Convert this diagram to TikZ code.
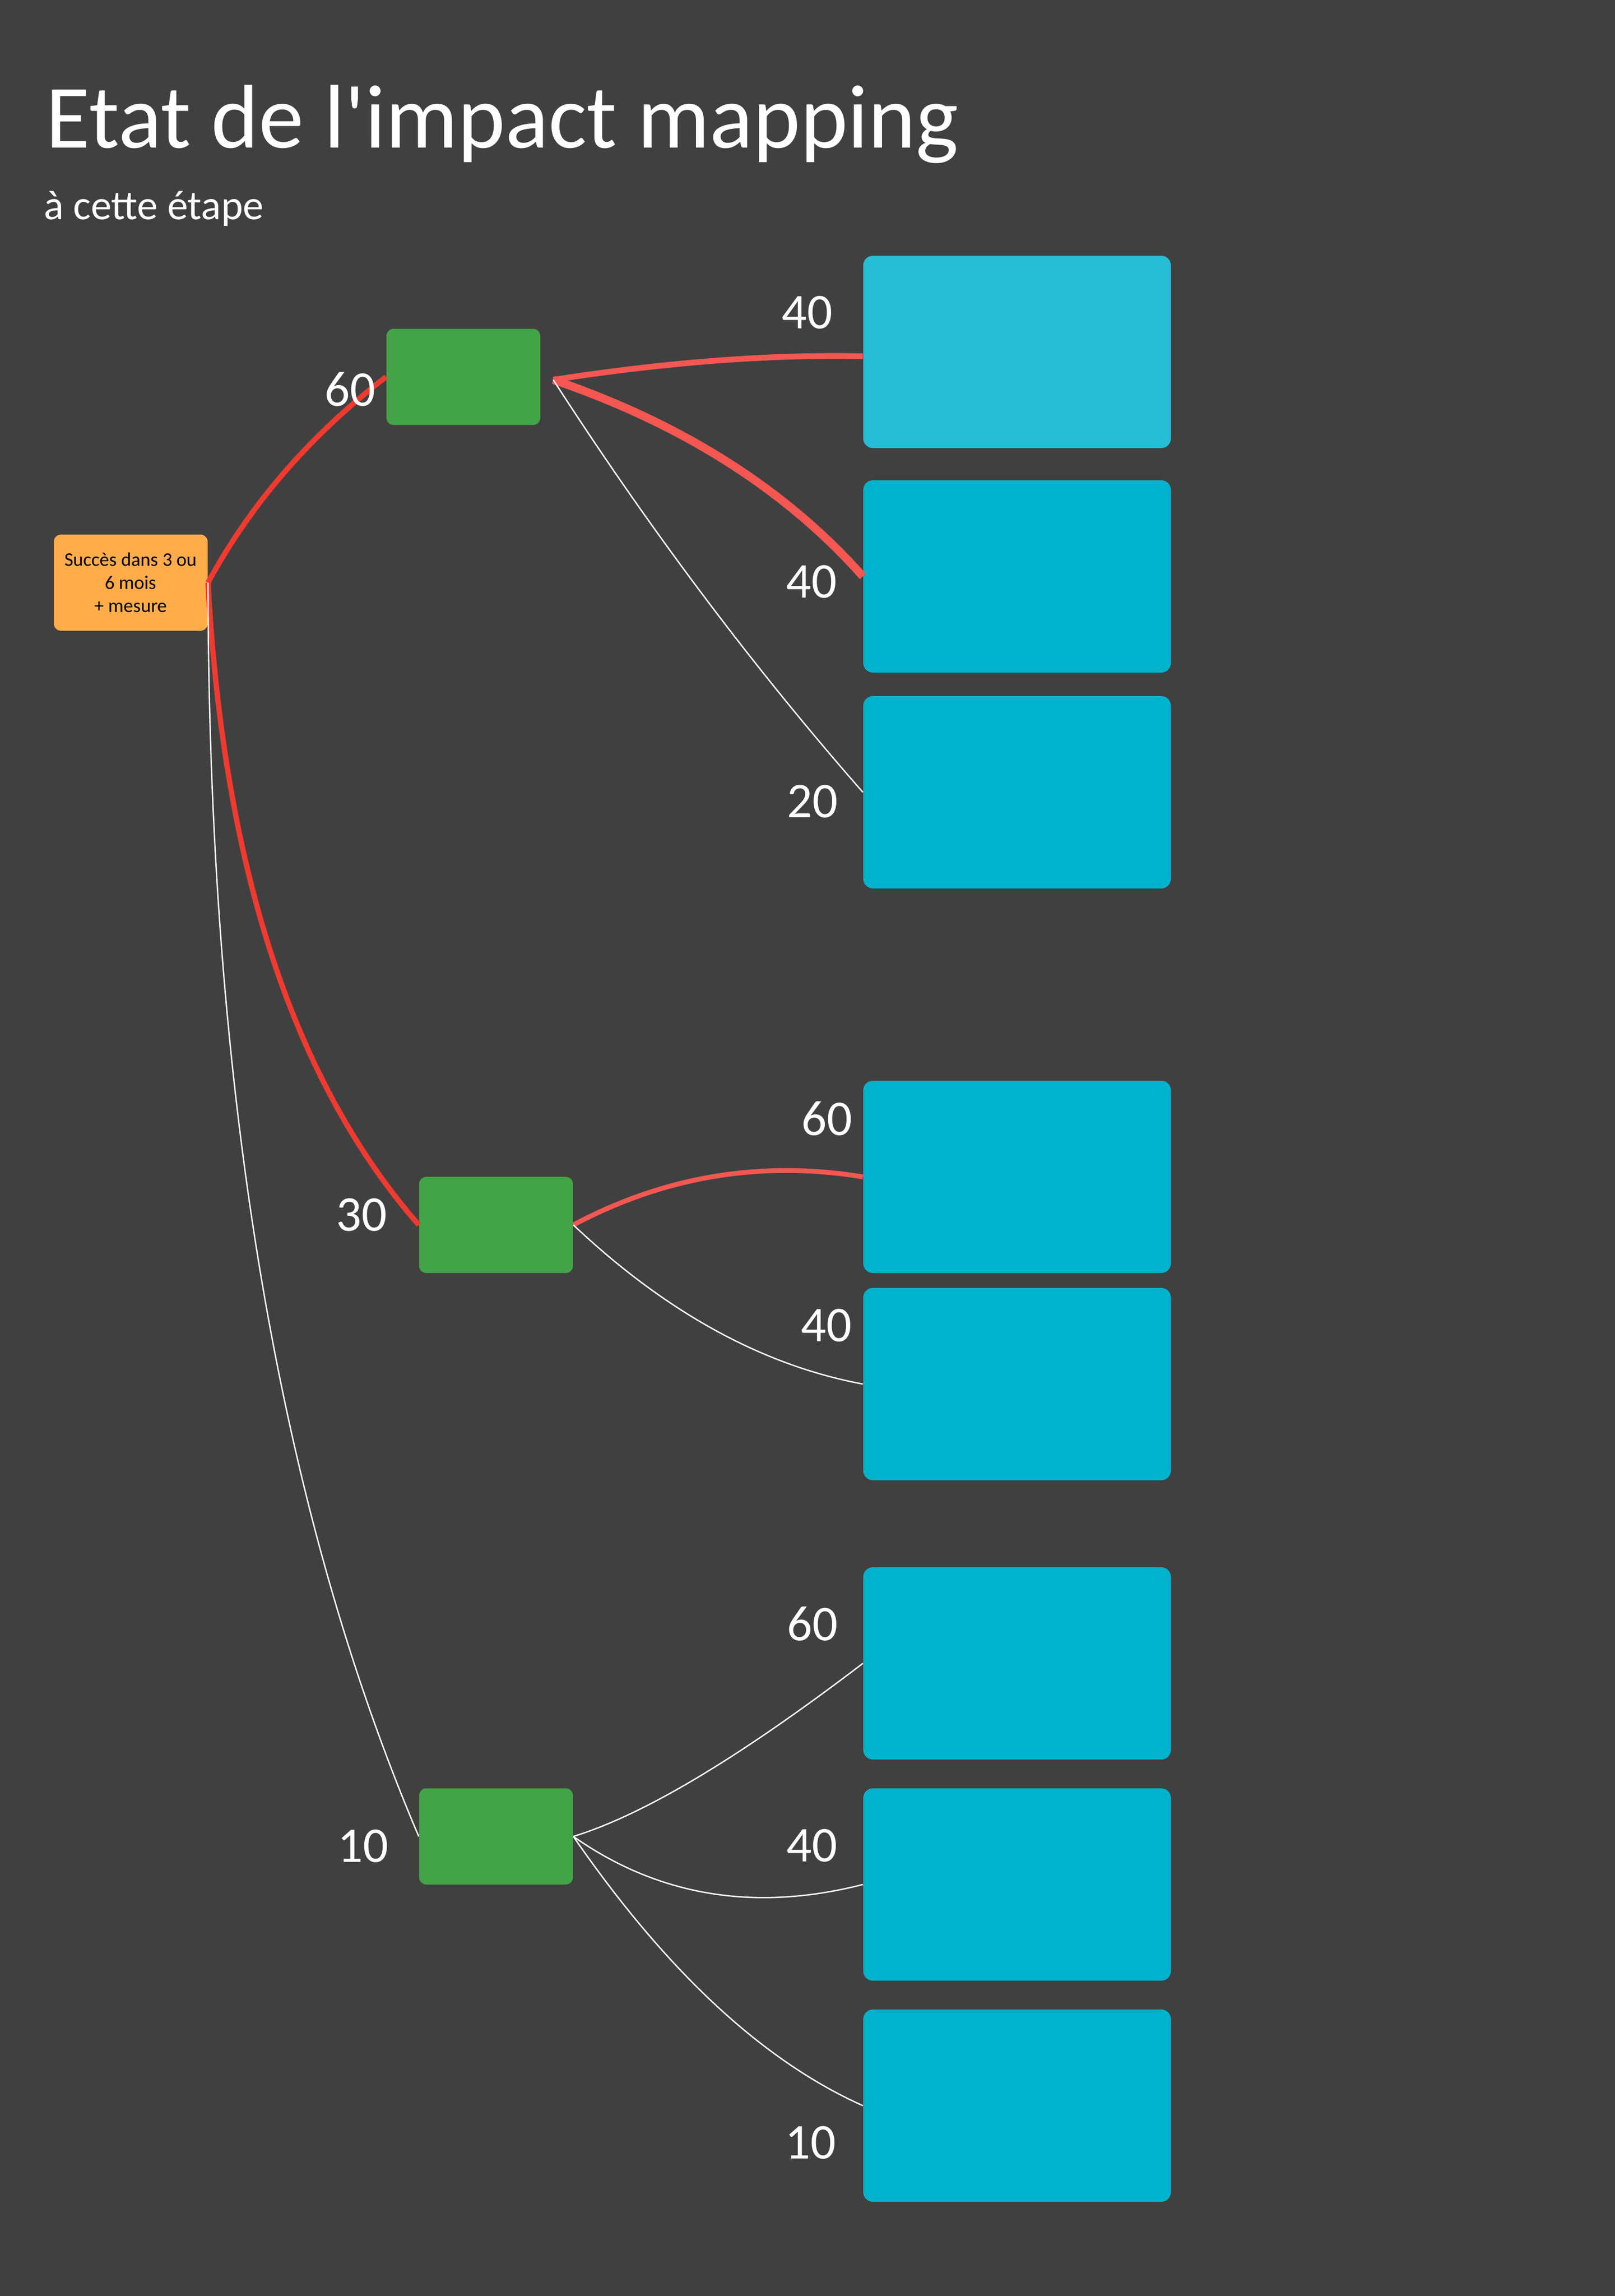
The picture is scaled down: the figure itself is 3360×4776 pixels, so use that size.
\documentclass[tikz,border=0pt]{standalone}
\usepackage{fontspec}
\setmainfont{Carlito}[Ligatures=TeXOff]
\usetikzlibrary{calc}
\definecolor{bg}{HTML}{404040}
\definecolor{orangenode}{HTML}{FFAC4B}
\definecolor{greennode}{HTML}{43A447}
\definecolor{bluenode}{HTML}{00B2CC}
\definecolor{lightblue}{HTML}{27BDD4}
\definecolor{reddark}{HTML}{F03A30}
\definecolor{redlight}{HTML}{F45751}
\begin{document}
\begin{tikzpicture}[x=0.25pt,y=-0.25pt,
  goalbox/.style={rectangle, rounded corners=3.75pt, fill=orangenode, minimum width=80pt, minimum height=50pt, inner sep=0pt, align=center, text=black, font=\fontsize{10}{12}\selectfont},
  actorbox/.style={rectangle, rounded corners=3.75pt, fill=greennode, minimum width=80pt, minimum height=50pt, inner sep=0pt},
  impactbox/.style={rectangle, rounded corners=5pt, fill=bluenode, minimum width=160pt, minimum height=100pt, inner sep=0pt},
  weight/.style={text=white, inner sep=0pt, font=\fontsize{26}{26}\selectfont},
  hot/.style={draw=reddark, line width=2.75pt},
  warm/.style={draw=redlight},
  cold/.style={draw=white, line width=0.7pt}]
\useasboundingbox (0,0) rectangle (3360,4776);
\fill[bg] (0,0) rectangle (3360,4776);

% titles
\node[anchor=base west, inner sep=0pt, text=white, font=\fontsize{47}{50}\selectfont] (title) at (95,307) {Etat de l'impact mapping};
\node[anchor=base west, inner sep=0pt, text=white, font=\fontsize{21.6}{24}\selectfont] (subtitle) at (91,456) {à cette étape};

% nodes
\node[goalbox] (goal) at (272,1212) {Succès dans 3 ou\\6 mois\\+ mesure};
\node[actorbox] (g1) at (964,784) {};
\node[actorbox] (g2) at (1032,2548) {};
\node[actorbox] (g3) at (1032,3820) {};
\node[impactbox, fill=lightblue] (b1) at (2116,732) {};
\node[impactbox] (b2) at (2116,1199) {};
\node[impactbox] (b3) at (2116,1648) {};
\node[impactbox] (b4) at (2116,2448) {};
\node[impactbox] (b5) at (2116,2879) {};
\node[impactbox] (b6) at (2116,3460) {};
\node[impactbox] (b7) at (2116,3920) {};
\node[impactbox] (b8) at (2116,4380) {};
\coordinate (g1out) at (1151,790);
\coordinate (b1in) at ($(b1.west)+(0,9)$);

% connectors
\draw[hot] (goal.east) .. controls +(87,-161) and +(-161,124) .. (g1.west);
\draw[hot] (goal.east) .. controls +(32,592) and +(-261,-299) .. (g2.west);
\draw[cold] (goal.east) .. controls +(1,1053) and +(-292,-685) .. (g3.west);

\draw[warm, line width=3pt] (g1out) .. controls +(239,-37) and +(-191,-4) .. (b1in);
\draw[warm, line width=4.25pt] (g1out) .. controls +(273,93) and +(-157,-177) .. (b2.west);
\draw[cold] (g1out) .. controls +(196,304) and +(-234,-267) .. (b3.west);

\draw[warm, line width=2.5pt] (g2.east) .. controls +(188,-100) and +(-214,-35) .. (b4.west);
\draw[cold] (g2.east) .. controls +(194,183) and +(-208,-39) .. (b5.west);

\draw[cold] (g3.east) .. controls +(150,-46) and +(-252,192) .. (b6.west);
\draw[cold] (g3.east) .. controls +(178,125) and +(-224,57) .. (b7.west);
\draw[cold] (g3.east) .. controls +(194,281) and +(-208,-93) .. (b8.west);

% weights
\node[weight] (w1) at (728,810) {60};
\node[weight] (w2) at (1679,650) {40};
\node[weight] (w3) at (1688,1210) {40};
\node[weight] (w4) at (1690,1667) {20};
\node[weight] (w5) at (752,2527) {30};
\node[weight] (w6) at (1720,2327) {60};
\node[weight] (w7) at (1719,2757) {40};
\node[weight] (w8) at (1690,3378) {60};
\node[weight] (w9) at (755,3840) {10};
\node[weight] (w10) at (1689,3839) {40};
\node[weight] (w11) at (1686,4457) {10};
\end{tikzpicture}
\end{document}
